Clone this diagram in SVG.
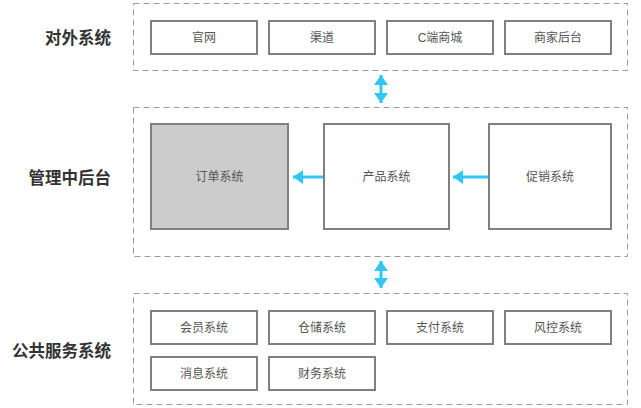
<svg xmlns="http://www.w3.org/2000/svg" width="641" height="408" viewBox="0 0 641 408">
  <style>
    .layer { fill: none; stroke: #9a9a9a; stroke-width: 1; stroke-dasharray: 6 4; }
    .box { fill: #ffffff; stroke: #808080; stroke-width: 2; }
    .box.hl { fill: #cccccc; }
    .lbl { font-family: "Liberation Sans", "Noto Sans CJK SC", sans-serif; font-size: 12px; fill: #555555; text-anchor: middle; dominant-baseline: central; }
    .title { font-family: "Liberation Sans", "Noto Sans CJK SC", sans-serif; font-size: 16.5px; font-weight: bold; fill: #333333; text-anchor: end; dominant-baseline: central; }
    .conn { stroke: #33c6f4; stroke-width: 3; fill: none; }
  </style>
  <defs>
    <marker id="ah" viewBox="0 0 10 14" refX="10" refY="7" markerWidth="10" markerHeight="14" markerUnits="userSpaceOnUse" orient="auto-start-reverse">
      <path d="M0,0 L10,7 L0,14 Z" fill="#33c6f4"/>
    </marker>
  </defs>

  <g id="layer-external">
    <rect class="layer" x="133.5" y="3.5" width="494" height="67"/>
    <text class="title" x="111" y="38">对外系统</text>
  </g>
  <g id="layer-middle">
    <rect class="layer" x="133.5" y="107.5" width="494" height="149"/>
    <text class="title" x="111" y="178">管理中后台</text>
  </g>
  <g id="layer-public">
    <rect class="layer" x="133.5" y="293.5" width="494" height="111"/>
    <text class="title" x="111" y="351">公共服务系统</text>
  </g>

  <g id="n-guanwang"><rect class="box" x="151" y="21" width="106" height="33"/><text class="lbl" x="204" y="38">官网</text></g>
  <g id="n-qudao"><rect class="box" x="269" y="21" width="106" height="33"/><text class="lbl" x="322" y="38">渠道</text></g>
  <g id="n-cshop"><rect class="box" x="387" y="21" width="106" height="33"/><text class="lbl" x="440" y="38">C端商城</text></g>
  <g id="n-merchant"><rect class="box" x="505" y="21" width="106" height="33"/><text class="lbl" x="558" y="38">商家后台</text></g>

  <g id="n-order"><rect class="box hl" x="151" y="124" width="137" height="105"/><text class="lbl" x="219.5" y="177">订单系统</text></g>
  <g id="n-product"><rect class="box" x="324" y="124" width="125" height="105"/><text class="lbl" x="386.5" y="177">产品系统</text></g>
  <g id="n-promo"><rect class="box" x="489" y="124" width="122" height="105"/><text class="lbl" x="550" y="177">促销系统</text></g>

  <g id="n-member"><rect class="box" x="151" y="311" width="106" height="33"/><text class="lbl" x="204" y="328">会员系统</text></g>
  <g id="n-storage"><rect class="box" x="269" y="311" width="106" height="33"/><text class="lbl" x="322" y="328">仓储系统</text></g>
  <g id="n-pay"><rect class="box" x="387" y="311" width="106" height="33"/><text class="lbl" x="440" y="328">支付系统</text></g>
  <g id="n-risk"><rect class="box" x="505" y="311" width="106" height="33"/><text class="lbl" x="558" y="328">风控系统</text></g>
  <g id="n-message"><rect class="box" x="151" y="357" width="106" height="33"/><text class="lbl" x="204" y="374">消息系统</text></g>
  <g id="n-finance"><rect class="box" x="269" y="357" width="106" height="33"/><text class="lbl" x="322" y="374">财务系统</text></g>

  <g id="connectors">
    <line class="conn" x1="381" y1="75" x2="381" y2="103" marker-start="url(#ah)" marker-end="url(#ah)"/>
    <line class="conn" x1="381" y1="261" x2="381" y2="288" marker-start="url(#ah)" marker-end="url(#ah)"/>
    <line class="conn" x1="323" y1="177" x2="293" y2="177" marker-end="url(#ah)"/>
    <line class="conn" x1="488" y1="177" x2="453" y2="177" marker-end="url(#ah)"/>
  </g>
</svg>
